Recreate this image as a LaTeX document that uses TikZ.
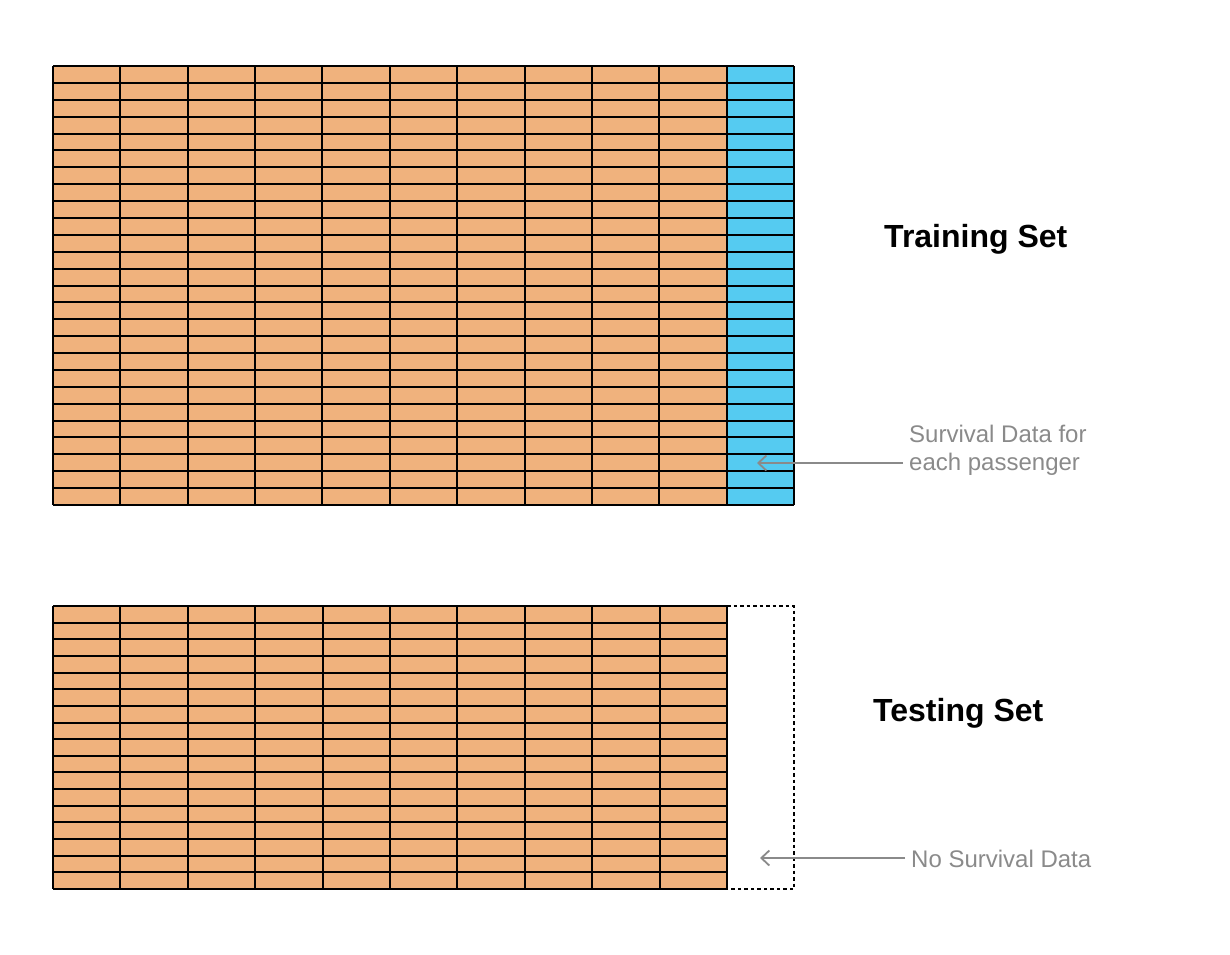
\documentclass[tikz,border=0pt]{standalone}
\usepackage{fontspec}
\setmainfont{Liberation Sans}
\usetikzlibrary{arrows.meta}
\definecolor{cellorange}{HTML}{F0B27D}
\definecolor{cellblue}{HTML}{55CBF1}
\definecolor{labelgray}{HTML}{8A8A8A}
\tikzset{
  gridline/.style={line width=2pt, black},
  titletext/.style={font=\fontsize{32}{36}\selectfont\bfseries, inner sep=0pt, anchor=base west},
  notetext/.style={font=\fontsize{24}{28}\selectfont, text=labelgray, inner sep=0pt, align=left},
  pointer/.style={draw=labelgray, line width=1.8pt, -{Straight Barb[length=8pt,width=15pt,line width=1.8pt]}},
  emptycol/.style={line width=1.8pt, dash pattern=on 3.5pt off 3pt}
}
\begin{document}
\begin{tikzpicture}[x=1pt,y=-1pt]
\useasboundingbox (0,0) rectangle (1230,954);
% ---- training table ----
\fill[cellorange] (53,66) rectangle (728,505);
\fill[cellblue] (728,66) rectangle (794,505);
\foreach \i in {0,...,26} {
  \draw[gridline] (53,{66+\i*439/26}) -- (794,{66+\i*439/26});
}
\foreach \j in {0,...,11} {
  \draw[gridline] ({53+\j*741/11},66) -- ({53+\j*741/11},505);
}
% ---- testing table ----
\fill[cellorange] (53,606) rectangle (727,889);
\foreach \i in {0,...,17} {
  \draw[gridline] (53,{606+\i*283/17}) -- (727,{606+\i*283/17});
}
\foreach \j in {0,...,10} {
  \draw[gridline] ({53+\j*674/10},606) -- ({53+\j*674/10},889);
}
\draw[emptycol] (727,606) -- (794,606) -- (794,889) -- (727,889);
% ---- titles ----
\node[titletext] (trainlabel) at (884,247) {Training Set};
\node[titletext] (testlabel) at (873,721) {Testing Set};
% ---- notes ----
\node[notetext, anchor=base west] (survnote) at (909,470) {Survival Data for\\each passenger};
\node[notetext, anchor=base west] (nonote) at (911,867) {No Survival Data};
\coordinate (survfrom) at (903,463);
\coordinate (survto) at (757,463);
\coordinate (nofrom) at (905,858);
\coordinate (noto) at (760,858);
\draw[pointer] (survfrom) -- (survto);
\draw[pointer] (nofrom) -- (noto);
\end{tikzpicture}
\end{document}
